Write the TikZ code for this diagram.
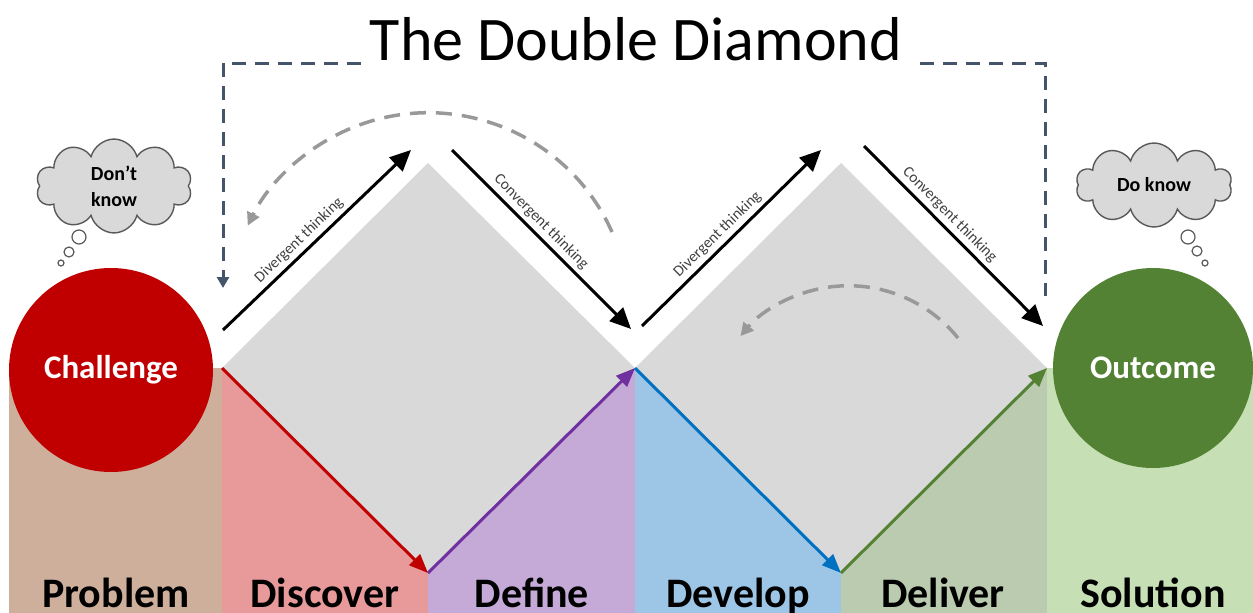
\documentclass[tikz,border=0pt]{standalone}
\usepackage{fontspec}
\setmainfont{Carlito}
\usepackage{tikz}
\usetikzlibrary{arrows.meta, positioning, calc, shapes.symbols}
\usepackage{xcolor}
\definecolor{DDRed}{HTML}{C00000}
\definecolor{DDGreen}{HTML}{548235}
\definecolor{DDPurple}{HTML}{7030A0}
\definecolor{DDBlue}{HTML}{0070C0}
\definecolor{DDNavy}{HTML}{44546A}
\definecolor{DDGray}{HTML}{D9D9D9}
\definecolor{DDDash}{HTML}{999999}
\definecolor{DDText}{HTML}{404040}
\definecolor{DDCloudLine}{HTML}{595959}
\definecolor{BandProblem}{HTML}{CEAF9C}
\definecolor{BandDiscover}{HTML}{E79A99}
\definecolor{BandDefine}{HTML}{C5A9D7}
\definecolor{BandDevelop}{HTML}{9DC5E5}
\definecolor{BandDeliver}{HTML}{BBCBAF}
\definecolor{BandSolution}{HTML}{C6DFB4}
\tikzset{
    % Node styles
    titletext/.style={
        font=\fontsize{62}{62}\selectfont,
        inner sep=0pt
    },
    stagelabel/.style={
        font=\fontsize{42}{42}\selectfont\bfseries,
        inner sep=0pt
    },
    stagecircle/.style={
        circle,
        draw=none,
        text=white,
        inner sep=0pt,
        font=\fontsize{33}{33}\selectfont\bfseries
    },
    thought/.style={
        cloud,
        cloud puffs=10,
        aspect=1.9,
        draw=DDCloudLine,
        fill=DDGray,
        line width=1.4pt,
        minimum width=156pt,
        minimum height=82pt,
        align=center,
        font=\fontsize{20}{26}\selectfont\bfseries
    },
    bubble/.style={
        circle,
        draw=DDCloudLine,
        fill=white,
        line width=1.2pt,
        inner sep=0pt
    },
    thinklabel/.style={
        font=\fontsize{15.5}{15.5}\selectfont,
        text=DDText,
        inner sep=4pt
    },
    % Arrow styles
    thinkarrow/.style={
        -{Triangle[length=21pt,width=19pt]},
        line width=3pt,
        black
    },
    phasearrow/.style={
        -{Triangle[length=19pt,width=15pt]},
        line width=3pt
    },
    iterarrow/.style={
        -{Triangle[length=13pt,width=13pt]},
        line width=3.5pt,
        dash pattern=on 16pt off 10pt,
        DDDash
    },
    loopline/.style={
        line width=3pt,
        dash pattern=on 14pt off 9pt,
        DDNavy
    }
}
\begin{document}
\begin{tikzpicture}[x=1pt, y=-1pt]
    \useasboundingbox (0,0) rectangle (1253,613);

    % Corners of the two diamonds
    \coordinate (dA) at (222,368);
    \coordinate (dB) at (428,573);
    \coordinate (dC) at (635,368);
    \coordinate (dD) at (841,573);
    \coordinate (dE) at (1047,368);
    \coordinate (tA) at (428,163);
    \coordinate (tB) at (841,163);

    % Phase bands
    \fill[BandProblem] (9,368) rectangle (222,613);
    \fill[BandDiscover] (222,368) rectangle (428,613);
    \fill[BandDefine] (428,368) rectangle (635,613);
    \fill[BandDevelop] (635,368) rectangle (841,613);
    \fill[BandDeliver] (841,368) rectangle (1047,613);
    \fill[BandSolution] (1047,368) rectangle (1253,613);

    % Diamonds
    \fill[DDGray] (dA) -- (tA) -- (dC) -- (dB) -- cycle;
    \fill[DDGray] (dC) -- (tB) -- (dE) -- (dD) -- cycle;

    % Phase arrows
    \draw[phasearrow, DDRed] (dA) -- (dB);
    \draw[phasearrow, DDPurple] (dB) -- (dC);
    \draw[phasearrow, DDBlue] (dC) -- (dD);
    \draw[phasearrow, DDGreen] (dD) -- (dE);

    % Stage labels
    \node[stagelabel, anchor=base] (problem) at (116,607) {Problem};
    \node[stagelabel, anchor=base] (discover) at (325,607) {Discover};
    \node[stagelabel, anchor=base] (define) at (532,607) {Define};
    \node[stagelabel, anchor=base] (develop) at (738,607) {Develop};
    \node[stagelabel, anchor=base] (deliver) at (943,607) {Deliver};
    \node[stagelabel, anchor=base] (solution) at (1153,607) {Solution};

    % Start and end
    \node[stagecircle, fill=DDRed, minimum size=204pt] (challenge) at (111,370) {\raisebox{-3pt}{Challenge}};
    \node[stagecircle, fill=DDGreen, minimum size=200pt] (outcome) at (1153,368) {Outcome};

    % Thought clouds
    \node[thought] (dontknow) at (114,186) {Don’t\\know};
    \node[bubble, minimum size=14pt] (bubL1) at (79,237) {};
    \node[bubble, minimum size=10pt] (bubL2) at (69,252) {};
    \node[bubble, minimum size=6pt] (bubL3) at (61,263) {};
    \node[thought] (doknow) at (1154,185) {Do know};
    \node[bubble, minimum size=14pt] (bubR1) at (1188,237) {};
    \node[bubble, minimum size=10pt] (bubR2) at (1197,251) {};
    \node[bubble, minimum size=6pt] (bubR3) at (1205,263) {};

    % Thinking arrows
    \coordinate (divAs) at (223,330);
    \coordinate (divAe) at (411,150);
    \coordinate (conAs) at (452,150);
    \coordinate (conAe) at (631,329);
    \coordinate (divBs) at (642,326);
    \coordinate (divBe) at (821,150);
    \coordinate (conBs) at (864,146);
    \coordinate (conBe) at (1043,326);
    \draw[thinkarrow] (divAs) -- node[thinklabel, pos=0.45, sloped, above] {Divergent thinking} (divAe);
    \draw[thinkarrow] (conAs) -- node[thinklabel, pos=0.45, sloped, above] {Convergent thinking} (conAe);
    \draw[thinkarrow] (divBs) -- node[thinklabel, pos=0.47, sloped, above] {Divergent thinking} (divBe);
    \draw[thinkarrow] (conBs) -- node[thinklabel, pos=0.43, sloped, above] {Convergent thinking} (conBe);

    % Iteration arcs
    \coordinate (iterA) at (612,232);
    \coordinate (iterB) at (958,338);
    \draw[iterarrow] (iterA) arc[start angle=-24, end angle=-154, radius=201];
    \draw[iterarrow] (iterB) arc[start angle=-39, end angle=-140, radius=141];

    % Title and loop back
    \node[titletext, anchor=base] (title) at (636,60) {The Double Diamond};
    \coordinate (loopL) at (361,63);
    \coordinate (loopR) at (920,63);
    \draw[loopline, -{Triangle[length=11pt,width=12pt]}] (loopL) -- (223,63) -- (223,288);
    \draw[loopline] (loopR) -- (1045,63) -- (1045,296);
\end{tikzpicture}
\end{document}
